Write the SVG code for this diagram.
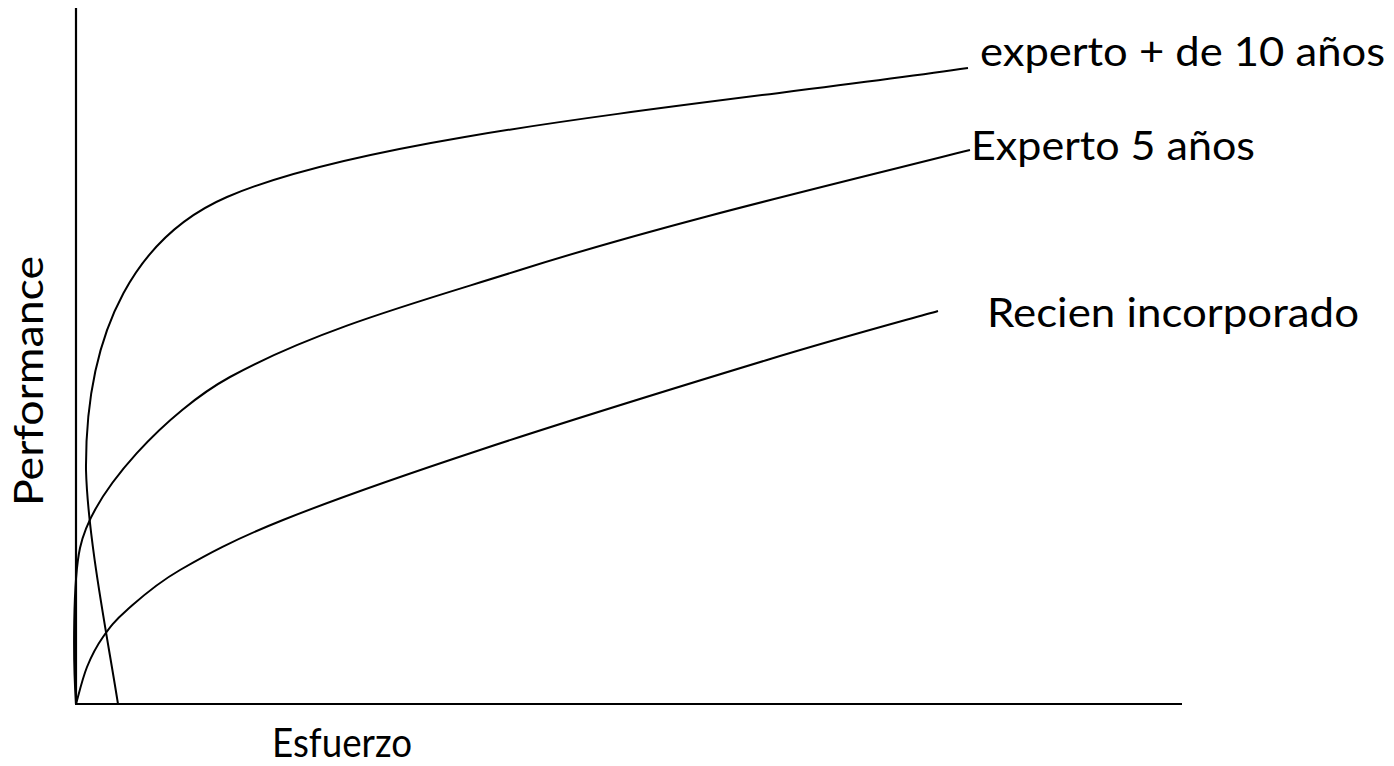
<svg xmlns="http://www.w3.org/2000/svg" width="1394" height="766" viewBox="0 0 1394 766">
<style>
.ln{fill:none;stroke:#000;stroke-width:2}
.ax{fill:none;stroke:#000;stroke-width:2.2}
.lb{font-family:Lato,"Liberation Sans",sans-serif;font-size:40px;fill:#000}
</style>
<rect width="1394" height="766" fill="#fff"/>
<g id="axes">
<line class="ax" x1="76" y1="8" x2="76" y2="704"/>
<line class="ax" x1="75" y1="704" x2="1182" y2="704"/>
</g>
<g id="curves">
<path id="curve-10" class="ln" d="M118,704 C108,640 88,540 86,470 C85,325 139.8,234.7 227,197 C374,133.5 718,104 968,68"/>
<path id="curve-5" class="ln" d="M76,704 C73,660 73,580 80,548 C92.8,489.4 168.7,410.7 230,377 C317.6,328.8 424.7,300.2 520,270 C663,224.7 824.5,186.5 970,150"/>
<path id="curve-new" class="ln" d="M76,704 C77.8,697.8 82.5,678.2 87,667 C91.5,655.8 96.3,646.5 103,637 C109.7,627.5 114.2,621.2 127,610 C139.8,598.8 154,585 180,570 C206,555 233,540 283,520 C333,500 399.3,476.7 480,450 C560.7,423.3 690.7,383.2 767,360 C843.3,336.8 909.5,319.2 938,311"/>
</g>
<g id="label-10"><text class="lb" x="980" y="66" textLength="405" lengthAdjust="spacingAndGlyphs">experto + de 10 años</text></g>
<g id="label-5"><text class="lb" x="971" y="160" textLength="284" lengthAdjust="spacingAndGlyphs">Experto 5 años</text></g>
<g id="label-new"><text class="lb" x="987" y="327" textLength="372" lengthAdjust="spacingAndGlyphs">Recien incorporado</text></g>
<g id="label-x"><text class="lb" x="272" y="757" textLength="140" lengthAdjust="spacingAndGlyphs">Esfuerzo</text></g>
<g id="label-y"><text class="lb" transform="translate(43,506) rotate(-90)" x="0" y="0" textLength="250" lengthAdjust="spacingAndGlyphs">Performance</text></g>
</svg>
